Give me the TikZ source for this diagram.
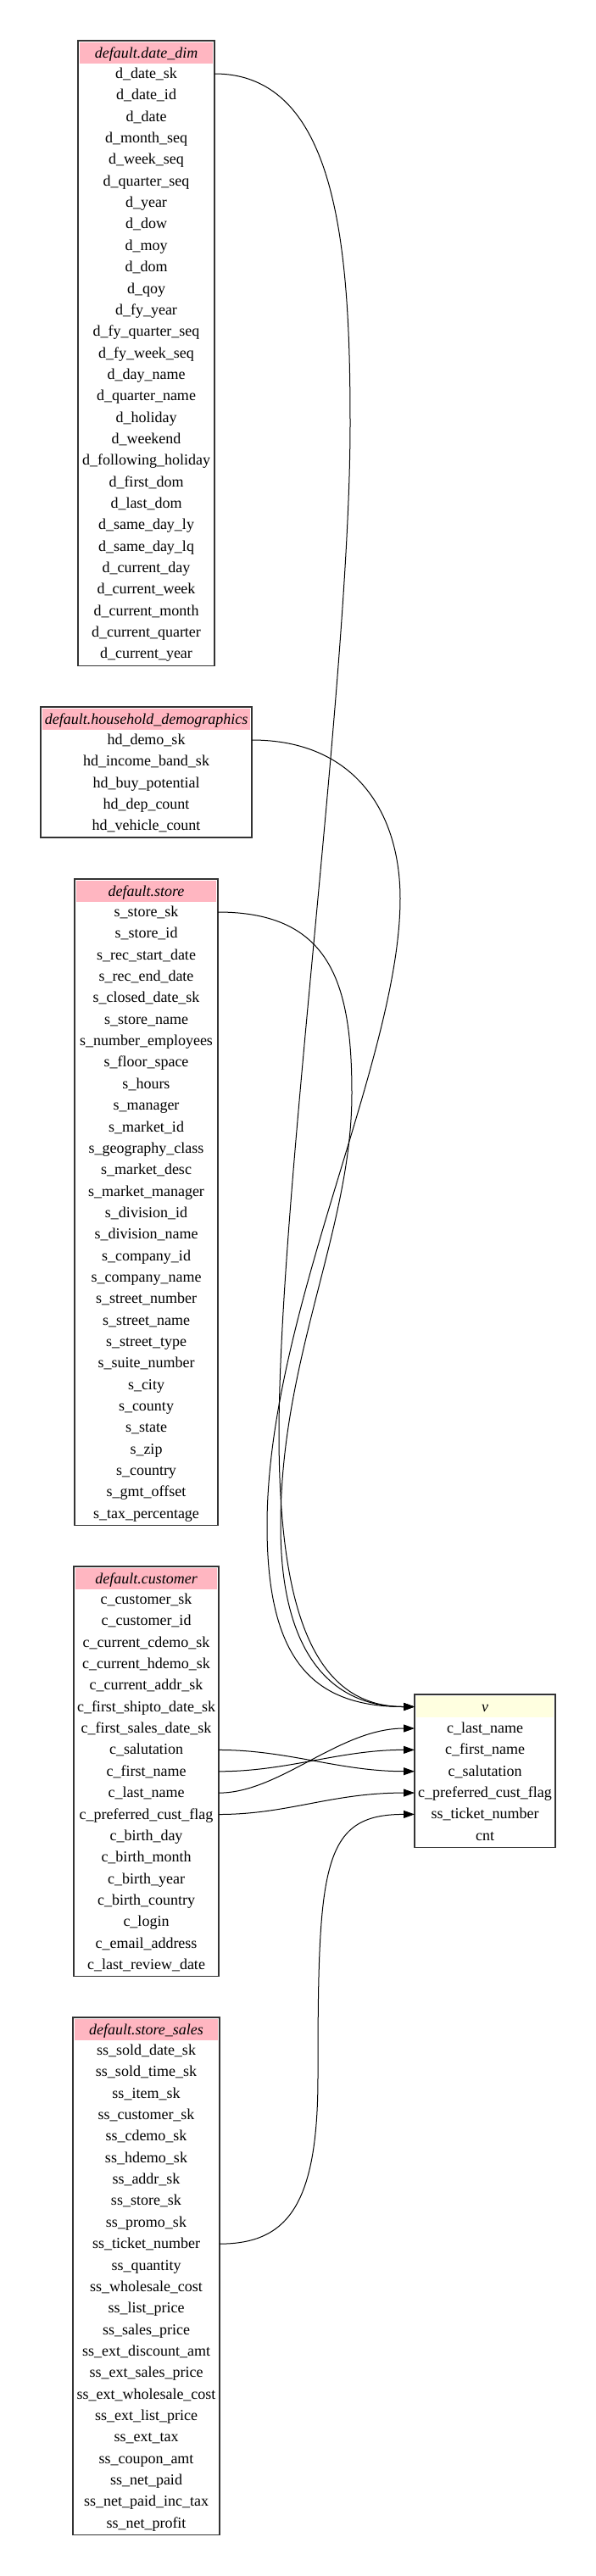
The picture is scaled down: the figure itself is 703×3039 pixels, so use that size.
\documentclass[tikz,border=0pt]{standalone}
\usepackage{fontspec}
\setmainfont{Liberation Serif}
\usetikzlibrary{arrows.meta}

\definecolor{headpink}{HTML}{FFB6C1}
\definecolor{headyellow}{HTML}{FFFFE0}

\tikzset{
    field/.style={inner sep=0pt, outer sep=0pt, minimum height=25.35pt,
                  text height=15pt, text depth=4pt,
                  font=\fontsize{18}{20}\selectfont},
    head/.style={field, minimum height=25pt,
                 font=\fontsize{18}{20}\selectfont\itshape},
    frame/.style={draw=black!80, line width=1.2pt},
    link/.style={line width=1pt, -{Triangle[length=13pt,width=9pt]}},
    ddrow/.style={field, minimum width=161pt},
    ddhead/.style={head, fill=headpink, minimum width=157pt},
    hdrow/.style={field, minimum width=249pt},
    hdhead/.style={head, fill=headpink, minimum width=245pt},
    strow/.style={field, minimum width=169pt},
    sthead/.style={head, fill=headpink, minimum width=165pt},
    curow/.style={field, minimum width=171pt},
    cuhead/.style={head, fill=headpink, minimum width=167pt},
    ssrow/.style={field, minimum width=173pt},
    sshead/.style={head, fill=headpink, minimum width=169pt},
    vrow/.style={field, minimum width=166pt},
    vhead/.style={head, fill=headyellow, minimum width=162pt}
}

\begin{document}
\begin{tikzpicture}[x=1pt, y=-1pt]
        \fill[white] (0,0) rectangle (703,3039);
        \useasboundingbox (0,0) rectangle (703,3039);

        % table date_dim
        \node[ddhead] (ddh) at (172.5, 62.5) {default.date\_dim};
        \node[ddrow] (dd1) at (172.5, 87) {d\_date\_sk};
        \node[ddrow] (dd2) at (172.5, 112.35) {d\_date\_id};
        \node[ddrow] (dd3) at (172.5, 137.7) {d\_date};
        \node[ddrow] (dd4) at (172.5, 163.05) {d\_month\_seq};
        \node[ddrow] (dd5) at (172.5, 188.4) {d\_week\_seq};
        \node[ddrow] (dd6) at (172.5, 213.75) {d\_quarter\_seq};
        \node[ddrow] (dd7) at (172.5, 239.1) {d\_year};
        \node[ddrow] (dd8) at (172.5, 264.45) {d\_dow};
        \node[ddrow] (dd9) at (172.5, 289.8) {d\_moy};
        \node[ddrow] (dd10) at (172.5, 315.15) {d\_dom};
        \node[ddrow] (dd11) at (172.5, 340.5) {d\_qoy};
        \node[ddrow] (dd12) at (172.5, 365.85) {d\_fy\_year};
        \node[ddrow] (dd13) at (172.5, 391.2) {d\_fy\_quarter\_seq};
        \node[ddrow] (dd14) at (172.5, 416.55) {d\_fy\_week\_seq};
        \node[ddrow] (dd15) at (172.5, 441.9) {d\_day\_name};
        \node[ddrow] (dd16) at (172.5, 467.25) {d\_quarter\_name};
        \node[ddrow] (dd17) at (172.5, 492.6) {d\_holiday};
        \node[ddrow] (dd18) at (172.5, 517.95) {d\_weekend};
        \node[ddrow] (dd19) at (172.5, 543.3) {d\_following\_holiday};
        \node[ddrow] (dd20) at (172.5, 568.65) {d\_first\_dom};
        \node[ddrow] (dd21) at (172.5, 594) {d\_last\_dom};
        \node[ddrow] (dd22) at (172.5, 619.35) {d\_same\_day\_ly};
        \node[ddrow] (dd23) at (172.5, 644.7) {d\_same\_day\_lq};
        \node[ddrow] (dd24) at (172.5, 670.05) {d\_current\_day};
        \node[ddrow] (dd25) at (172.5, 695.4) {d\_current\_week};
        \node[ddrow] (dd26) at (172.5, 720.75) {d\_current\_month};
        \node[ddrow] (dd27) at (172.5, 746.1) {d\_current\_quarter};
        \node[ddrow] (dd28) at (172.5, 771.45) {d\_current\_year};
        \draw[frame] ([yshift=2pt]dd1.west |- ddh.north) rectangle ([yshift=-1pt]dd28.south east);

        % table household_demographics
        \node[hdhead] (hdh) at (172.5, 848.5) {default.household\_demographics};
        \node[hdrow] (hd1) at (172.5, 873) {hd\_demo\_sk};
        \node[hdrow] (hd2) at (172.5, 898.35) {hd\_income\_band\_sk};
        \node[hdrow] (hd3) at (172.5, 923.7) {hd\_buy\_potential};
        \node[hdrow] (hd4) at (172.5, 949.05) {hd\_dep\_count};
        \node[hdrow] (hd5) at (172.5, 974.4) {hd\_vehicle\_count};
        \draw[frame] ([yshift=2pt]hd1.west |- hdh.north) rectangle ([yshift=-1pt]hd5.south east);

        % table store
        \node[sthead] (sth) at (172.5, 1051.5) {default.store};
        \node[strow] (st1) at (172.5, 1076) {s\_store\_sk};
        \node[strow] (st2) at (172.5, 1101.35) {s\_store\_id};
        \node[strow] (st3) at (172.5, 1126.7) {s\_rec\_start\_date};
        \node[strow] (st4) at (172.5, 1152.05) {s\_rec\_end\_date};
        \node[strow] (st5) at (172.5, 1177.4) {s\_closed\_date\_sk};
        \node[strow] (st6) at (172.5, 1202.75) {s\_store\_name};
        \node[strow] (st7) at (172.5, 1228.1) {s\_number\_employees};
        \node[strow] (st8) at (172.5, 1253.45) {s\_floor\_space};
        \node[strow] (st9) at (172.5, 1278.8) {s\_hours};
        \node[strow] (st10) at (172.5, 1304.15) {s\_manager};
        \node[strow] (st11) at (172.5, 1329.5) {s\_market\_id};
        \node[strow] (st12) at (172.5, 1354.85) {s\_geography\_class};
        \node[strow] (st13) at (172.5, 1380.2) {s\_market\_desc};
        \node[strow] (st14) at (172.5, 1405.55) {s\_market\_manager};
        \node[strow] (st15) at (172.5, 1430.9) {s\_division\_id};
        \node[strow] (st16) at (172.5, 1456.25) {s\_division\_name};
        \node[strow] (st17) at (172.5, 1481.6) {s\_company\_id};
        \node[strow] (st18) at (172.5, 1506.95) {s\_company\_name};
        \node[strow] (st19) at (172.5, 1532.3) {s\_street\_number};
        \node[strow] (st20) at (172.5, 1557.65) {s\_street\_name};
        \node[strow] (st21) at (172.5, 1583) {s\_street\_type};
        \node[strow] (st22) at (172.5, 1608.35) {s\_suite\_number};
        \node[strow] (st23) at (172.5, 1633.7) {s\_city};
        \node[strow] (st24) at (172.5, 1659.05) {s\_county};
        \node[strow] (st25) at (172.5, 1684.4) {s\_state};
        \node[strow] (st26) at (172.5, 1709.75) {s\_zip};
        \node[strow] (st27) at (172.5, 1735.1) {s\_country};
        \node[strow] (st28) at (172.5, 1760.45) {s\_gmt\_offset};
        \node[strow] (st29) at (172.5, 1785.8) {s\_tax\_percentage};
        \draw[frame] ([yshift=2pt]st1.west |- sth.north) rectangle ([yshift=-1pt]st29.south east);

        % table customer
        \node[cuhead] (cuh) at (172.5, 1862.5) {default.customer};
        \node[curow] (cu1) at (172.5, 1887) {c\_customer\_sk};
        \node[curow] (cu2) at (172.5, 1912.35) {c\_customer\_id};
        \node[curow] (cu3) at (172.5, 1937.7) {c\_current\_cdemo\_sk};
        \node[curow] (cu4) at (172.5, 1963.05) {c\_current\_hdemo\_sk};
        \node[curow] (cu5) at (172.5, 1988.4) {c\_current\_addr\_sk};
        \node[curow] (cu6) at (172.5, 2013.75) {c\_first\_shipto\_date\_sk};
        \node[curow] (cu7) at (172.5, 2039.1) {c\_first\_sales\_date\_sk};
        \node[curow] (cu8) at (172.5, 2064.45) {c\_salutation};
        \node[curow] (cu9) at (172.5, 2089.8) {c\_first\_name};
        \node[curow] (cu10) at (172.5, 2115.15) {c\_last\_name};
        \node[curow] (cu11) at (172.5, 2140.5) {c\_preferred\_cust\_flag};
        \node[curow] (cu12) at (172.5, 2165.85) {c\_birth\_day};
        \node[curow] (cu13) at (172.5, 2191.2) {c\_birth\_month};
        \node[curow] (cu14) at (172.5, 2216.55) {c\_birth\_year};
        \node[curow] (cu15) at (172.5, 2241.9) {c\_birth\_country};
        \node[curow] (cu16) at (172.5, 2267.25) {c\_login};
        \node[curow] (cu17) at (172.5, 2292.6) {c\_email\_address};
        \node[curow] (cu18) at (172.5, 2317.95) {c\_last\_review\_date};
        \draw[frame] ([yshift=2pt]cu1.west |- cuh.north) rectangle ([yshift=-1pt]cu18.south east);

        % table store_sales
        \node[sshead] (ssh) at (172.5, 2394.5) {default.store\_sales};
        \node[ssrow] (ss1) at (172.5, 2419) {ss\_sold\_date\_sk};
        \node[ssrow] (ss2) at (172.5, 2444.35) {ss\_sold\_time\_sk};
        \node[ssrow] (ss3) at (172.5, 2469.7) {ss\_item\_sk};
        \node[ssrow] (ss4) at (172.5, 2495.05) {ss\_customer\_sk};
        \node[ssrow] (ss5) at (172.5, 2520.4) {ss\_cdemo\_sk};
        \node[ssrow] (ss6) at (172.5, 2545.75) {ss\_hdemo\_sk};
        \node[ssrow] (ss7) at (172.5, 2571.1) {ss\_addr\_sk};
        \node[ssrow] (ss8) at (172.5, 2596.45) {ss\_store\_sk};
        \node[ssrow] (ss9) at (172.5, 2621.8) {ss\_promo\_sk};
        \node[ssrow] (ss10) at (172.5, 2647.15) {ss\_ticket\_number};
        \node[ssrow] (ss11) at (172.5, 2672.5) {ss\_quantity};
        \node[ssrow] (ss12) at (172.5, 2697.85) {ss\_wholesale\_cost};
        \node[ssrow] (ss13) at (172.5, 2723.2) {ss\_list\_price};
        \node[ssrow] (ss14) at (172.5, 2748.55) {ss\_sales\_price};
        \node[ssrow] (ss15) at (172.5, 2773.9) {ss\_ext\_discount\_amt};
        \node[ssrow] (ss16) at (172.5, 2799.25) {ss\_ext\_sales\_price};
        \node[ssrow] (ss17) at (172.5, 2824.6) {ss\_ext\_wholesale\_cost};
        \node[ssrow] (ss18) at (172.5, 2849.95) {ss\_ext\_list\_price};
        \node[ssrow] (ss19) at (172.5, 2875.3) {ss\_ext\_tax};
        \node[ssrow] (ss20) at (172.5, 2900.65) {ss\_coupon\_amt};
        \node[ssrow] (ss21) at (172.5, 2926) {ss\_net\_paid};
        \node[ssrow] (ss22) at (172.5, 2951.35) {ss\_net\_paid\_inc\_tax};
        \node[ssrow] (ss23) at (172.5, 2976.7) {ss\_net\_profit};
        \draw[frame] ([yshift=2pt]ss1.west |- ssh.north) rectangle ([yshift=-1pt]ss23.south east);

        % view v
        \node[vhead] (vh) at (572, 2013.5) {v};
        \node[vrow] (v1) at (572, 2039) {c\_last\_name};
        \node[vrow] (v2) at (572, 2064.35) {c\_first\_name};
        \node[vrow] (v3) at (572, 2089.7) {c\_salutation};
        \node[vrow] (v4) at (572, 2115.05) {c\_preferred\_cust\_flag};
        \node[vrow] (v5) at (572, 2140.4) {ss\_ticket\_number};
        \node[vrow] (v6) at (572, 2165.75) {cnt};
        \draw[frame] ([yshift=2pt]v1.west |- vh.north) rectangle ([yshift=-1pt]v6.south east);

        % links into v
        \draw[link] (dd1.east) .. controls (400,87) and (413,300) .. (413,500)
            .. controls (413,800) and (330,1400) .. (329,1690)
            .. controls (329,1900) and (370,2013.5) .. (v1.west |- vh.west);
        \draw[link] (hd1.east) .. controls (420,873) and (472,960) .. (472,1060)
            .. controls (472,1250) and (315,1550) .. (315,1800)
            .. controls (315,1960) and (370,2013.5) .. (v1.west |- vh.west);
        \draw[link] (st1.east) .. controls (390,1076) and (415,1160) .. (415,1290)
            .. controls (415,1450) and (331,1600) .. (331,1800)
            .. controls (331,1950) and (390,2013.5) .. (v1.west |- vh.west);
        \draw[link] (cu8.east) .. controls (340,2064.45) and (400,2089.7) .. (v3.west);
        \draw[link] (cu9.east) .. controls (340,2089.8) and (400,2064.35) .. (v2.west);
        \draw[link] (cu10.east) .. controls (330,2115.15) and (400,2039) .. (v1.west);
        \draw[link] (cu11.east) .. controls (340,2140.5) and (390,2115.05) .. (v4.west);
        \draw[link] (ss10.east) .. controls (340,2647.15) and (375,2600) .. (375,2450)
            .. controls (375,2200) and (380,2140.4) .. (v5.west);
\end{tikzpicture}
\end{document}
